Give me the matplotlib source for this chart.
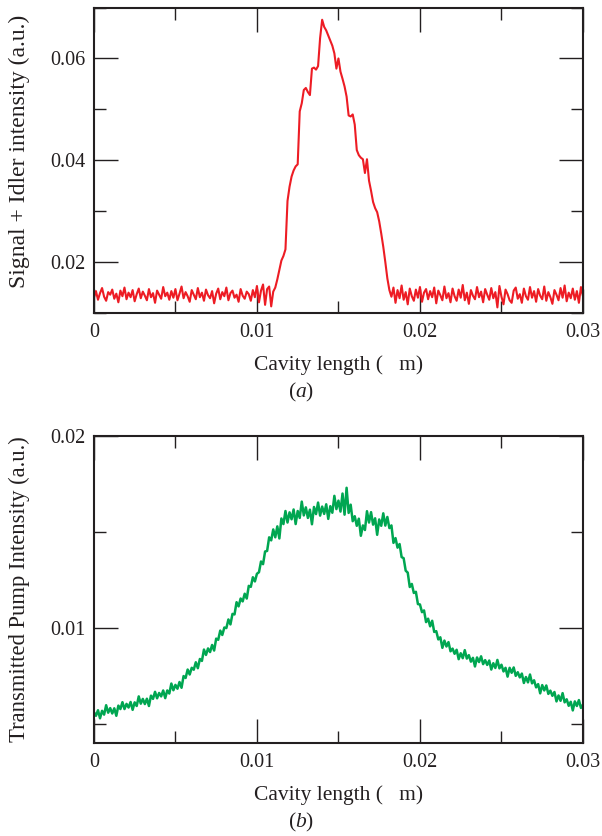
import numpy as np
import matplotlib.pyplot as plt
from matplotlib.ticker import MultipleLocator, FormatStrFormatter

plt.rcParams["font.family"] = "Liberation Serif"
plt.rcParams["mathtext.fontset"] = "custom"
plt.rcParams["mathtext.rm"] = "Liberation Serif"
plt.rcParams["mathtext.it"] = "Liberation Serif:italic"

RED = "#ed1c24"
GREEN = "#00a651"
INK = "#231f20"

# (a) signal + idler -- flat parts read in units of 1e-4
sig_left = [
    130, 143, 126, 139, 149, 132, 124, 141, 136, 146, 128, 138, 121, 144, 133, 150, 127, 140, 131, 145,
    123, 137, 148, 129, 142, 134, 125, 147, 131, 139, 120, 144, 136, 128, 151, 133, 140, 126, 143, 130,
    147, 125, 138, 152, 129, 141, 133, 122, 145, 136, 127, 149, 131, 140, 124, 146, 135, 129, 143, 119,
    138, 148, 127, 141, 133, 150, 125, 139, 144, 130, 136, 122, 147, 134, 128, 142, 137, 124, 145, 131,
    153, 121, 144, 156, 116, 147, 152, 113, 142,
]
sig_peak_x = [
    0.011125, 0.01125, 0.011375, 0.0115, 0.011625, 0.01175, 0.011875, 0.012,
    0.012125, 0.01225, 0.012375, 0.0125, 0.012625, 0.01275, 0.012875, 0.013,
    0.013125, 0.01325, 0.013375, 0.0135, 0.013625, 0.01375, 0.013875, 0.014,
    0.014125, 0.01425, 0.014375, 0.0145, 0.014625, 0.01475, 0.014875, 0.015,
    0.015125, 0.01525, 0.015375, 0.0155, 0.015625, 0.01575, 0.015875, 0.016,
    0.016125, 0.01625, 0.016375, 0.0165, 0.016625, 0.01675, 0.016875, 0.017,
    0.017125, 0.01725, 0.017375, 0.0175, 0.017625, 0.01775, 0.017875, 0.018,
    0.018125, 0.01825,
]
sig_peak_y = [
    0.0150, 0.0166, 0.0185, 0.0203, 0.0212, 0.0225, 0.0320, 0.0348,
    0.0368, 0.0380, 0.0388, 0.0392, 0.0496, 0.0512, 0.0538, 0.0542,
    0.0534, 0.0528, 0.0580, 0.0582, 0.0578, 0.0585, 0.0640, 0.0676,
    0.0662, 0.0655, 0.0645, 0.0635, 0.0625, 0.0610, 0.0580, 0.0600,
    0.0574, 0.0560, 0.0545, 0.0525, 0.0488, 0.0486, 0.0490, 0.0470,
    0.0420, 0.0410, 0.0405, 0.0402, 0.0375, 0.0402, 0.0360, 0.0340,
    0.0318, 0.0306, 0.0298, 0.0280, 0.0256, 0.0230, 0.0200, 0.0168,
    0.0145, 0.0132,
]
sig_right = [
    150, 120, 145, 129, 154, 126, 141, 117, 148, 133, 124, 146, 130, 151, 122, 140, 147, 127, 143, 131,
    150, 119, 144, 135, 125, 152, 129, 139, 121, 148, 133, 124, 146, 130, 155, 125, 140, 118, 145, 134,
    127, 151, 131, 142, 121, 147, 136, 126, 149, 129, 141, 111, 153, 132, 117, 146, 137, 125, 120, 144,
    150, 128, 137, 120, 148, 133, 126, 151, 130, 143, 122, 147, 134, 127, 152, 124, 141, 131, 118, 145,
    136, 125, 149, 130, 154, 123, 140, 129, 148, 126, 143, 120, 151, 133,
]

# (b) transmitted pump -- units of 1e-5, one reading every 0.125e-3
pump = [
    561, 542, 571, 529, 568, 548, 597, 558, 582, 554, 581, 542, 595, 577, 613, 577,
    604, 585, 614, 573, 612, 593, 643, 605, 630, 603, 631, 593, 647, 630, 667, 633,
    661, 643, 674, 634, 674, 658, 710, 675, 703, 683, 718, 688, 749, 739, 783, 757,
    792, 782, 821, 790, 838, 828, 887, 859, 893, 874, 911, 882, 944, 938, 986, 963,
    1002, 999, 1044, 1018, 1073, 1070, 1134, 1112, 1153, 1138, 1178, 1153, 1219, 1214, 1264, 1242,
    1282, 1290, 1346, 1332, 1398, 1401, 1472, 1456, 1513, 1472, 1529, 1466, 1570, 1541, 1609, 1549,
    1602, 1566, 1617, 1541, 1609, 1573, 1658, 1586, 1628, 1573, 1616, 1540, 1630, 1593, 1653, 1585,
    1632, 1594, 1644, 1568, 1634, 1600, 1688, 1619, 1663, 1606, 1700, 1590, 1730, 1599, 1642, 1556,
    1582, 1532, 1569, 1480, 1534, 1510, 1608, 1549, 1603, 1538, 1571, 1485, 1565, 1532, 1597, 1533,
    1578, 1520, 1534, 1443, 1468, 1418, 1437, 1369, 1363, 1298, 1288, 1213, 1229, 1182, 1188, 1124,
    1122, 1082, 1091, 1030, 1048, 1008, 1037, 979, 983, 940, 951, 896, 934, 903, 926, 878,
    892, 865, 886, 837, 868, 842, 884, 840, 858, 824, 844, 799, 846, 822, 852, 811,
    832, 807, 830, 783, 816, 791, 833, 789, 808, 773, 792, 746, 792, 766, 794, 750,
    769, 742, 762, 713, 744, 716, 757, 711, 727, 690, 707, 659, 702, 674, 700, 656,
    673, 646, 666, 617, 648, 620, 660, 612, 628, 594, 615, 570, 617, 593, 624, 583,
    600,
]

x_a = np.concatenate([np.linspace(0, 0.011, len(sig_left)), sig_peak_x,
                      np.linspace(0.018375, 0.03, len(sig_right))])
y_a = np.concatenate([np.array(sig_left) * 1e-4, sig_peak_y, np.array(sig_right) * 1e-4])
x_b = np.linspace(0, 0.03, len(pump))
y_b = np.array(pump) * 1e-5

fig = plt.figure(figsize=(6.02, 8.36), dpi=100)
ax1 = fig.add_axes([0.156, 0.6256, 0.8124, 0.3654])
ax2 = fig.add_axes([0.156, 0.1112, 0.8124, 0.3673])

ax1.plot(x_a, y_a, color=RED, lw=1.5)
ax2.plot(x_b, y_b, color=GREEN, lw=1.8)

ax1.set_ylim(0.01, 0.07)
ax1.yaxis.set_major_locator(MultipleLocator(0.02))
ax1.yaxis.set_minor_locator(MultipleLocator(0.01))
ax1.set_ylabel("Signal + Idler intensity (a.u.)", fontsize=17)

ax2.set_ylim(0.004, 0.02)
ax2.yaxis.set_major_locator(MultipleLocator(0.01))
ax2.yaxis.set_minor_locator(MultipleLocator(0.005))
ax2.set_ylabel("Transmitted Pump Intensity (a.u.)", fontsize=16.3)

for ax in (ax1, ax2):
    ax.set_xlim(0, 0.03)
    ax.xaxis.set_major_locator(MultipleLocator(0.01))
    ax.xaxis.set_minor_locator(MultipleLocator(0.005))
    ax.xaxis.set_major_formatter(FormatStrFormatter("%g"))
    ax.yaxis.set_major_formatter(FormatStrFormatter("%g"))
    ax.tick_params(which="both", direction="in", top=True, right=True,
                   color=INK, labelcolor=INK, labelsize=14.5, width=1.0)
    ax.tick_params(which="major", length=17)
    ax.tick_params(which="minor", length=8.5)
    ax.tick_params(axis="x", pad=7)
    ax.tick_params(axis="y", pad=6)
    for sp in ax.spines.values():
        sp.set_color(INK)
        sp.set_linewidth(1.5)
    ax.set_xlabel("Cavity length (   m)", fontsize=15.5, color=INK)
    ax.xaxis.label.set_va("center")
    ax.xaxis.set_label_coords(0.5, -0.17)
    ax.yaxis.label.set_color(INK)
    ax.yaxis.label.set_va("center")

ax1.yaxis.set_label_coords(-0.152, 0.53)
ax2.yaxis.set_label_coords(-0.152, 0.5)

fig.text(0.5, 0.530, r"($\mathit{a}$)", ha="center", va="center", fontsize=15.5, color=INK)
fig.text(0.5, 0.0167, r"($\mathit{b}$)", ha="center", va="center", fontsize=15.5, color=INK)

fig.savefig("out.png", dpi=100)
